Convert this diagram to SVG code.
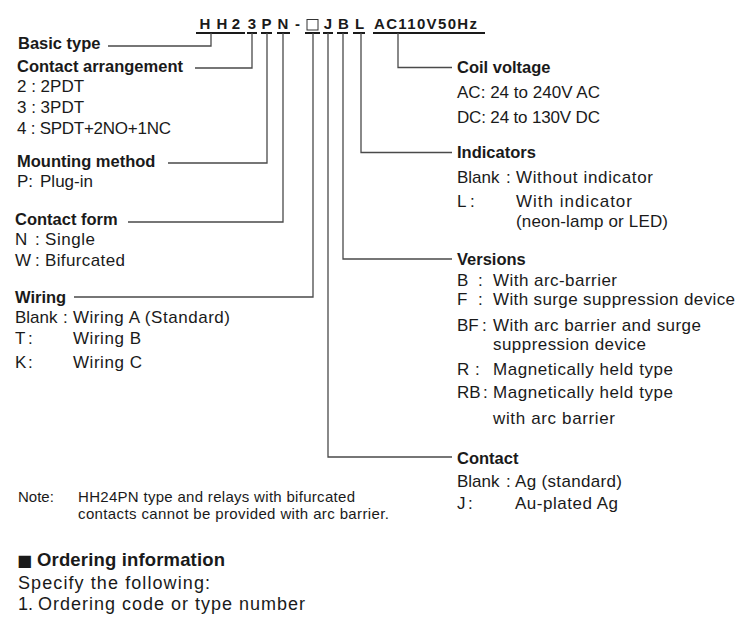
<svg xmlns="http://www.w3.org/2000/svg" width="750" height="622" viewBox="0 0 750 622">
<style>
text{font-family:"Liberation Sans",Arial,sans-serif;fill:#1a1a1a}
.b{font-weight:bold;font-size:16.5px}
.r{font-size:17px}
.h{font-weight:bold;font-size:15px;text-anchor:middle}
.n{font-size:15px}
.o{font-size:18px}
.ul{stroke:#1a1a1a;stroke-width:2;fill:none}
.c{stroke:#4a4a4a;stroke-width:1.3;fill:none}
</style>
<rect width="750" height="622" fill="#fff"/>
<g id="code">
<text class="h" x="205" y="29">H</text>
<text class="h" x="222" y="29">H</text>
<text class="h" x="236" y="29">2</text>
<text class="h" x="252" y="29">3</text>
<text class="h" x="266.5" y="29">P</text>
<text class="h" x="283" y="29">N</text>
<text class="h" x="297.5" y="29">-</text>
<rect x="307" y="19.5" width="11" height="10.5" fill="none" stroke="#333" stroke-width="1"/>
<text class="h" x="328" y="29">J</text>
<text class="h" x="343.5" y="29">B</text>
<text class="h" x="359.5" y="29">L</text>
<text class="h" x="374" y="29" style="text-anchor:start" textLength="103" lengthAdjust="spacing">AC110V50Hz</text>
<path class="ul" d="M196 33H245M247 33H257M261 33H272M277 33H290M305 33H320M323 33H333M337 33H348M353 33H365M373 33H485"/>
</g>
<g id="connectors">
<path class="c" d="M211 33V46H108"/>
<path class="c" d="M252 33V68H195"/>
<path class="c" d="M267 33V163H168"/>
<path class="c" d="M283 33V222H128"/>
<path class="c" d="M313 33V297H74"/>
<path class="c" d="M328 33V457H452"/>
<path class="c" d="M343 33V259H452"/>
<path class="c" d="M361 33V152.5H452"/>
<path class="c" d="M398 33V67.5H452"/>
</g>
<g id="basic-type">
<text class="b" x="18" y="49">Basic type</text>
</g>
<g id="contact-arrangement">
<text class="b" x="17" y="72">Contact arrangement</text>
<text class="r" x="17" y="92">2 : 2PDT</text>
<text class="r" x="17" y="113">3 : 3PDT</text>
<text class="r" x="17" y="134" textLength="154" lengthAdjust="spacing">4 : SPDT+2NO+1NC</text>
</g>
<g id="mounting-method">
<text class="b" x="17" y="167">Mounting method</text>
<text class="r" x="17" y="187">P:</text>
<text class="r" x="40" y="187" textLength="53" lengthAdjust="spacing">Plug-in</text>
</g>
<g id="contact-form">
<text class="b" x="15" y="225">Contact form</text>
<text class="r" x="15" y="245">N</text>
<text class="r" x="35" y="245">:</text>
<text class="r" x="45" y="245" textLength="50" lengthAdjust="spacing">Single</text>
<text class="r" x="15" y="266">W</text>
<text class="r" x="35" y="266">:</text>
<text class="r" x="45" y="266" textLength="80" lengthAdjust="spacing">Bifurcated</text>
</g>
<g id="wiring">
<text class="b" x="15" y="303">Wiring</text>
<text class="r" x="15" y="323">Blank</text>
<text class="r" x="63" y="323">:</text>
<text class="r" x="73" y="323" textLength="157" lengthAdjust="spacing">Wiring A (Standard)</text>
<text class="r" x="15" y="344">T</text>
<text class="r" x="28" y="344">:</text>
<text class="r" x="73" y="344" textLength="68" lengthAdjust="spacing">Wiring B</text>
<text class="r" x="15" y="368">K</text>
<text class="r" x="28" y="368">:</text>
<text class="r" x="73" y="368" textLength="69" lengthAdjust="spacing">Wiring C</text>
</g>
<g id="coil-voltage">
<text class="b" x="457" y="73">Coil voltage</text>
<text class="r" x="457" y="98" textLength="143" lengthAdjust="spacing">AC: 24 to 240V AC</text>
<text class="r" x="457" y="123" textLength="143" lengthAdjust="spacing">DC: 24 to 130V DC</text>
</g>
<g id="indicators">
<text class="b" x="457" y="158">Indicators</text>
<text class="r" x="457" y="183">Blank</text>
<text class="r" x="506" y="183">:</text>
<text class="r" x="516" y="183" textLength="137" lengthAdjust="spacing">Without indicator</text>
<text class="r" x="457" y="207">L</text>
<text class="r" x="470" y="207">:</text>
<text class="r" x="516" y="207" textLength="116" lengthAdjust="spacing">With indicator</text>
<text class="r" x="516" y="227" textLength="152" lengthAdjust="spacing">(neon-lamp or LED)</text>
</g>
<g id="versions">
<text class="b" x="457" y="265">Versions</text>
<text class="r" x="457" y="286">B</text>
<text class="r" x="478" y="286">:</text>
<text class="r" x="493" y="286" textLength="124" lengthAdjust="spacing">With arc-barrier</text>
<text class="r" x="457" y="305">F</text>
<text class="r" x="478" y="305">:</text>
<text class="r" x="493" y="305" textLength="242" lengthAdjust="spacing">With surge suppression device</text>
<text class="r" x="457" y="331">BF</text>
<text class="r" x="482" y="331">:</text>
<text class="r" x="493" y="331" textLength="208" lengthAdjust="spacing">With arc barrier and surge</text>
<text class="r" x="493" y="350" textLength="153" lengthAdjust="spacing">suppression device</text>
<text class="r" x="457" y="375">R</text>
<text class="r" x="475" y="375">:</text>
<text class="r" x="493" y="375" textLength="180" lengthAdjust="spacing">Magnetically held type</text>
<text class="r" x="457" y="398">RB</text>
<text class="r" x="483" y="398">:</text>
<text class="r" x="493" y="398" textLength="180" lengthAdjust="spacing">Magnetically held type</text>
<text class="r" x="493" y="424" textLength="122" lengthAdjust="spacing">with arc barrier</text>
</g>
<g id="contact">
<text class="b" x="457" y="464">Contact</text>
<text class="r" x="457" y="487">Blank</text>
<text class="r" x="506" y="487">:</text>
<text class="r" x="515" y="487" textLength="107" lengthAdjust="spacing">Ag (standard)</text>
<text class="r" x="457" y="509">J</text>
<text class="r" x="468" y="509">:</text>
<text class="r" x="515" y="509" textLength="103" lengthAdjust="spacing">Au-plated Ag</text>
</g>
<g id="note">
<text class="n" x="18" y="502">Note:</text>
<text class="n" x="78" y="502" textLength="277" lengthAdjust="spacing">HH24PN type and relays with bifurcated</text>
<text class="n" x="78" y="519" textLength="311" lengthAdjust="spacing">contacts cannot be provided with arc barrier.</text>
</g>
<g id="ordering">
<text x="17" y="566" style="font-family:'DejaVu Sans',sans-serif;font-size:16px">■</text>
<text x="37" y="566" style="font-weight:bold;font-size:18.5px" textLength="188" lengthAdjust="spacing">Ordering information</text>
<text class="o" x="18" y="589" textLength="192" lengthAdjust="spacing">Specify the following:</text>
<text class="o" x="18" y="610">1.</text>
<text class="o" x="38" y="610" textLength="267" lengthAdjust="spacing">Ordering code or type number</text>
</g>
</svg>
